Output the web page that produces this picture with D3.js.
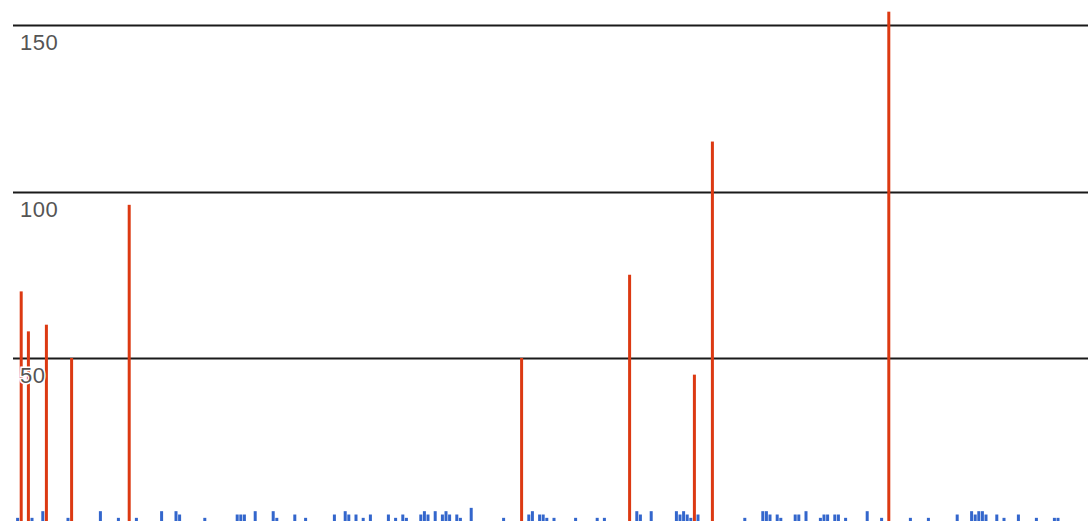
<!DOCTYPE html>
<html>
<head>
<meta charset="utf-8">
<script src="https://cdn.jsdelivr.net/npm/d3@7"></script>
<style>
  html, body { margin: 0; padding: 0; background: #fff; overflow: hidden; }
  svg { display: block; }
</style>
</head>
<body>
<div id="chart"></div>
<script>
// red series: day index and value
const redDays = [2, 4, 9, 16, 32, 141, 171, 189, 194, 243]
const redValues = [70, 58, 60, 50, 96, 50, 75, 45, 115, 154]

// blue series: small counts along the bottom
const blueDays = [1, 5, 8, 15, 24, 29, 34, 41, 45, 46, 53, 62, 63, 64, 67, 72, 73, 78, 81,
  89, 92, 93, 95, 97, 99, 104, 106, 108, 109, 113, 114, 115, 117, 119, 120, 121, 123, 124,
  127, 136, 143, 144, 146, 147, 148, 150, 156, 162, 164, 173, 174, 177, 184, 185, 186, 187,
  188, 190, 203, 208, 209, 210, 212, 213, 217, 218, 220, 224, 225, 226, 228, 229, 231, 237,
  241, 249, 254, 262, 266, 267, 268, 269, 270, 273, 275, 279, 284, 289, 290]
const blueValues = [2, 2, 4, 2, 4, 2, 2, 4, 4, 3, 2, 3, 3, 3, 4, 4, 2, 3, 2,
  3, 4, 3, 3, 2, 3, 3, 2, 3, 2, 3, 4, 3, 4, 3, 4, 3, 3, 2,
  5, 2, 3, 4, 3, 3, 2, 2, 2, 2, 2, 4, 3, 4, 4, 3, 4, 3,
  2, 3, 2, 4, 4, 3, 3, 2, 3, 3, 4, 2, 3, 3, 3, 3, 2, 4,
  2, 2, 2, 3, 4, 3, 4, 4, 3, 3, 2, 3, 2, 2, 2]

const yTicks = [50, 100, 150]

const width = 1088
const height = 521

const svg = d3.select('#chart')
  .append('svg')
  .attr('width', width)
  .attr('height', height)

const x = d3.scaleLinear().domain([0, 300]).range([14, 1094])
const y = d3.scaleLinear().domain([0, 150]).range([524.5, 25])

const barW = 3

// gridlines
svg.append('g')
  .selectAll('line')
  .data(yTicks)
  .join('line')
  .attr('x1', 13)
  .attr('x2', width)
  .attr('y1', d => Math.round(y(d)) + 0.5)
  .attr('y2', d => Math.round(y(d)) + 0.5)
  .attr('stroke', '#1a1a1a')
  .attr('stroke-width', 1.8)

// blue bars
svg.append('g')
  .selectAll('rect')
  .data(blueDays.map((d, i) => ({day: d, v: blueValues[i]})))
  .join('rect')
  .attr('x', d => x(d.day) - barW / 2)
  .attr('y', d => y(d.v))
  .attr('width', barW)
  .attr('height', d => y(0) - y(d.v))
  .attr('fill', '#3366cc')

// red bars
svg.append('g')
  .selectAll('rect')
  .data(redDays.map((d, i) => ({day: d, v: redValues[i]})))
  .join('rect')
  .attr('x', d => x(d.day) - barW / 2)
  .attr('y', d => y(d.v))
  .attr('width', barW)
  .attr('height', d => y(0) - y(d.v))
  .attr('fill', '#dc3912')

// tick labels, drawn over the bars with a white halo
svg.append('g')
  .selectAll('text')
  .data(yTicks)
  .join('text')
  .attr('x', 20)
  .attr('y', d => y(d) + 25)
  .attr('font-family', 'Liberation Sans, Arial, sans-serif')
  .attr('font-size', 22)
  .attr('letter-spacing', 0.5)
  .attr('fill', '#555')
  .attr('stroke', '#fff')
  .attr('stroke-width', 3)
  .attr('paint-order', 'stroke')
  .text(d => d)
</script>
</body>
</html>
